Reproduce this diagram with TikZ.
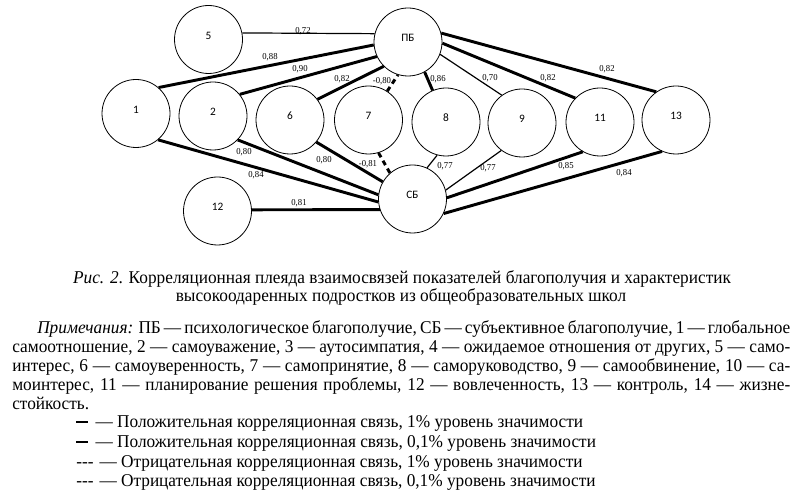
\documentclass[tikz,border=0pt]{standalone}
\usepackage{fontspec}
\setmainfont{Liberation Serif}[FakeStretch=0.96]
\newfontfamily\circfont{Carlito}
\begin{document}
\begin{tikzpicture}[x=0.75pt,y=-0.75pt,
  circ/.style={circle,draw,line width=0.6pt,minimum size=51pt,inner sep=0pt},
  lab/.style={font=\circfont\fontsize{8.5}{9}\selectfont,yshift=3pt},
  strong/.style={line width=2.2pt},
  weak/.style={line width=0.9pt},
  neg/.style={line width=2.2pt,dash pattern=on 3.75pt off 3pt},
  val/.style={font=\fontsize{6.8}{7}\selectfont,inner sep=0pt},
  txt/.style={font=\fontsize{13.5}{14.3}\selectfont,inner sep=0pt,anchor=base west}]
\useasboundingbox (0,0) rectangle (802,498);
% circles
\node[circ,label={[lab]center:5}] (n5) at (208.5,39.5) {};
\node[circ,label={[lab]center:1}] (n1) at (136,113.5) {};
\node[circ,label={[lab]center:2}] (n2) at (213,116) {};
\node[circ,label={[lab]center:6}] (n6) at (290,120) {};
\node[circ,label={[lab]center:7}] (n7) at (368.5,120) {};
\node[circ,label={[lab]center:8}] (n8) at (446,122) {};
\node[circ,label={[lab]center:9}] (n9) at (522,123) {};
\node[circ,label={[lab]center:11}] (n11) at (600,122) {};
\node[circ,label={[lab]center:13}] (n13) at (676,120) {};
\node[circ,label={[lab]center:12}] (n12) at (217.5,211) {};
\node[circ,label={[lab]center:ПБ}] (pb) at (408,42) {};
\node[circ,label={[lab]center:СБ}] (sb) at (412.5,199) {};
% edges to PB
\draw[weak] (n5.11) -- (pb.166);
\draw[strong] (n1.49) -- (pb.185);
\draw[strong] (n2.39) -- (pb.205);
\draw[strong] (n6.37) -- (pb.225);
\draw[neg] (n7.57) -- (pb.253);
\draw[strong] (n8.113) -- (pb.299);
\draw[weak] (n9.126) -- (pb.339);
\draw[strong] (n11.136) -- (pb.358);
\draw[strong] (n13.125) -- (pb.15);
% edges to SB
\draw[strong] (n1.-50) -- (sb.185);
\draw[strong] (n2.-44) -- (sb.173);
\draw[strong] (n6.-40) -- (sb.150);
\draw[neg] (n7.-73) -- (sb.131);
\draw[weak] (n8.-105) -- (sb.65);
\draw[weak] (n9.-127) -- (sb.15);
\draw[strong] (n11.-120) -- (sb.2);
\draw[strong] (n13.-114) -- (sb.-25);
\draw[strong] (n12.2) -- (sb.198);
% values
\node[val] (v1) at (303,31) {0,72};
\node[val] (v2) at (270,57) {0,88};
\node[val] (v3) at (300,69) {0,90};
\node[val] (v4) at (342,79) {0,82};
\node[val] (v5) at (382,81) {-0,80};
\node[val] (v6) at (438,79) {0,86};
\node[val] (v7) at (490,78) {0,70};
\node[val] (v8) at (548,78) {0,82};
\node[val] (v9) at (607,69) {0,82};
\node[val] (v10) at (244,152) {0,80};
\node[val] (v11) at (256,175) {0,84};
\node[val] (v12) at (324,160) {0,80};
\node[val] (v13) at (368,164) {-0,81};
\node[val] (v14) at (445,166) {0,77};
\node[val] (v15) at (488,168) {0,77};
\node[val] (v16) at (566,166) {0,85};
\node[val] (v17) at (624,173) {0,84};
\node[val] (v18) at (299,203) {0,81};
% caption
\node[txt,anchor=base] (c1) at (402,284) {\textit{Рис. 2}. Корреляционная плеяда взаимосвязей показателей благополучия и характеристик};
\node[txt,anchor=base] (c2) at (401,302) {высокоодаренных подростков из общеобразовательных школ};
% notes
\node[txt] (p1) at (37,334) {\makebox[564.75pt][s]{\textit{Примечания:} ПБ — психологическое благополучие, СБ — субъективное благополучие, 1 — глобальное}};
\node[txt] (p2) at (12,353) {\makebox[583.5pt][s]{самоотношение, 2 — самоуважение, 3 — аутосимпатия, 4 — ожидаемое отношения от других, 5 — само-}};
\node[txt] (p3) at (12,372) {\makebox[583.5pt][s]{интерес, 6 — самоуверенность, 7 — самопринятие, 8 — саморуководство, 9 — самообвинение, 10 — са-}};
\node[txt] (p4) at (12,391) {\makebox[583.5pt][s]{моинтерес, 11 — планирование решения проблемы, 12 — вовлеченность, 13 — контроль, 14 — жизне-}};
\node[txt] (p5) at (12,409) {стойкость.};
% legend
\node[txt] (l1) at (76,427) {\raisebox{0.25em}{\rule{8.5pt}{1pt}}\hspace{6pt}— Положительная корреляционная связь, 1\% уровень значимости};
\node[txt] (l2) at (76,447) {\raisebox{0.25em}{\rule{8.5pt}{1pt}}\hspace{6pt}— Положительная корреляционная связь, 0,1\% уровень значимости};
\node[txt] (l3) at (76,467) {-{}-{}-\hspace{4.5pt}— Отрицательная корреляционная связь, 1\% уровень значимости};
\node[txt] (l4) at (76,486) {-{}-{}-\hspace{4.5pt}— Отрицательная корреляционная связь, 0,1\% уровень значимости};
\end{tikzpicture}
\end{document}
